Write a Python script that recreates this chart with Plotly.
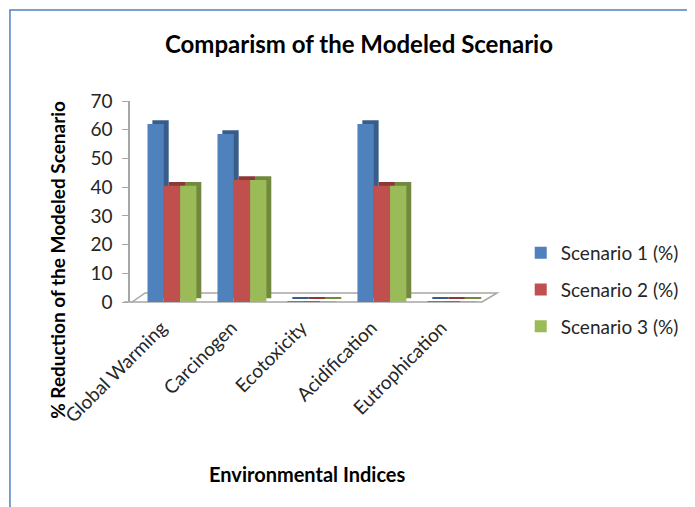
import plotly.graph_objects as go

categories = ["Global Warming", "Carcinogen", "Ecotoxicity", "Acidification", "Eutrophication"]
scenario1 = [62, 58.5, 0.3, 62, 0.3]
scenario2 = [40.5, 42.5, 0.3, 40.5, 0.3]
scenario3 = [40.5, 42.5, 0.3, 40.5, 0.3]
series_names = ["Scenario 1 (%)", "Scenario 2 (%)", "Scenario 3 (%)"]

front_colors = ["#4F81BD", "#C0504D", "#9BBB59"]
side_colors = ["#385D8A", "#8C3836", "#71893F"]

series = [scenario1, scenario2, scenario3]
xpos = list(range(len(categories)))
bw = 0.233
offsets = [-0.35, -0.117, 0.116]
dx = 0.07
dy = 1.3
label_shift = -0.15

FONT = "Lato, Open Sans, sans-serif"

fig = go.Figure()
# depth (side/top) faces
for i, vals in enumerate(series):
    fig.add_trace(go.Bar(
        x=xpos, y=vals, base=[dy] * len(vals), offset=offsets[i] + dx, width=bw,
        marker=dict(color=side_colors[i], line=dict(width=0)),
        showlegend=False, legendgroup=str(i), hoverinfo="skip",
    ))
# front faces
for i, vals in enumerate(series):
    fig.add_trace(go.Bar(
        x=xpos, y=vals, offset=offsets[i], width=bw, name=series_names[i],
        marker=dict(color=front_colors[i], line=dict(width=0)),
        legendgroup=str(i),
    ))

# page body has an 8px margin, so the figure is laid out 8px up/left
fig.update_layout(
    width=695, height=507,
    barmode="overlay",
    plot_bgcolor="white", paper_bgcolor="white",
    margin=dict(l=122, r=221, t=93, b=213, autoexpand=False),
    font=dict(family=FONT, color="#262626", size=19),
    title=dict(text="<b>Comparism of the Modeled Scenario</b>", x=0.505, xanchor="center",
               xref="container", y=0.927, yanchor="middle",
               font=dict(size=24, color="black")),
    legend=dict(x=1.11, y=0.06, xanchor="left", yanchor="middle",
                font=dict(size=19, color="#262626"), tracegroupgap=9,
                itemwidth=30),
    showlegend=True,
)
fig.update_xaxes(
    tickmode="array", tickvals=[p + label_shift for p in xpos], ticktext=categories, tickangle=-45,
    range=[-0.6, 4.43], showline=False, showgrid=False, zeroline=False,
    ticks="", tickfont=dict(size=19, color="#262626"), ticklabelstandoff=10,
    automargin=False,
)
fig.update_yaxes(
    range=[0, 70], dtick=10, showline=True, linecolor="#A6A6A6", linewidth=1.5,
    ticks="outside", ticklen=6, tickcolor="#A6A6A6", showgrid=False, zeroline=False,
    tickfont=dict(size=19, color="#262626"), ticklabelstandoff=6, automargin=False,
)
# floor of the chart
fig.add_shape(type="path", xref="paper", yref="paper",
              path="M 0.006 0 L 1.0 0 L 1.043 0.045 L 0.043 0.045 Z",
              line=dict(color="#A6A6A6", width=1.5), fillcolor="rgba(0,0,0,0)", layer="below")
fig.add_shape(type="line", xref="paper", yref="paper", x0=-0.017, y0=0, x1=0.006, y1=0,
              line=dict(color="#A6A6A6", width=1.5), layer="below")
# chart frame
fig.add_shape(type="rect", xref="paper", yref="paper",
              x0=-0.341, y0=-1.2, x1=1.62, y1=1.453,
              line=dict(color="#4F81BD", width=1.5), fillcolor="rgba(0,0,0,0)", layer="below")

fig.add_annotation(text="<b>% Reduction of the Modeled Scenario</b>", xref="paper", yref="paper",
                   x=-0.205, y=0.209, xanchor="center", yanchor="middle",
                   textangle=-90, showarrow=False,
                   font=dict(size=19, color="black", family=FONT))
fig.add_annotation(text="<b>Environmental Indices</b>", xref="paper", yref="paper",
                   x=0.505, y=-0.855, showarrow=False, xanchor="center", yanchor="middle",
                   font=dict(size=20, color="black", family=FONT))

fig.write_html("out.html")
